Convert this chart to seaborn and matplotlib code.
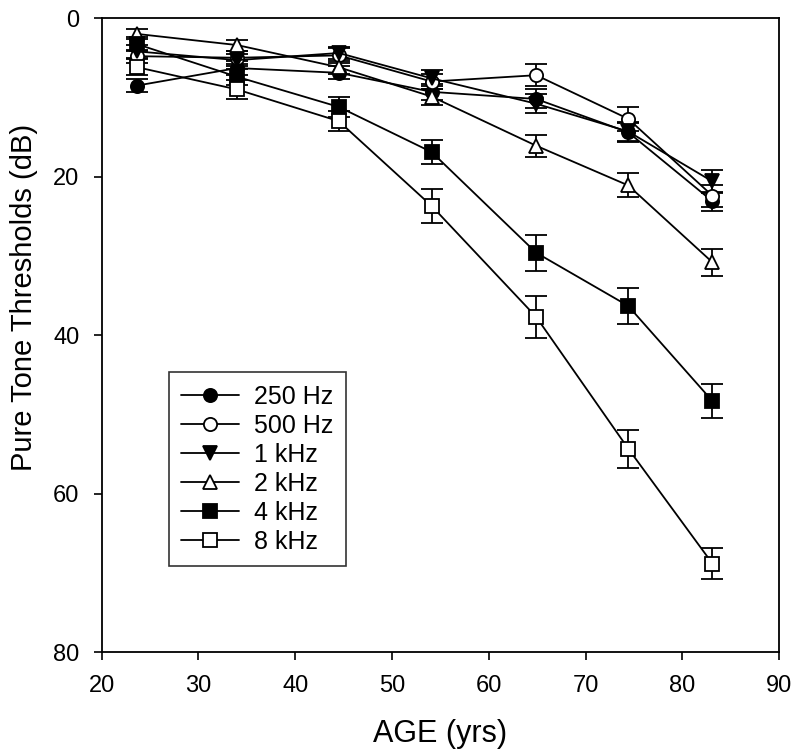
import numpy as np
import pandas as pd
import matplotlib
matplotlib.use("Agg")
import matplotlib.pyplot as plt
import seaborn as sns

ages = [23.7, 34.0, 44.5, 54.1, 64.9, 74.4, 83.1]

hz250 = [8.5, 6.3, 6.9, 9.3, 10.2, 14.4, 23.1]
hz500 = [4.8, 5.0, 4.7, 8.0, 7.2, 12.7, 22.4]
khz1 = [4.2, 5.3, 4.4, 7.6, 10.8, 14.3, 20.6]
khz2 = [2.0, 3.4, 6.2, 9.9, 16.1, 21.1, 30.8]
khz4 = [3.3, 7.4, 11.2, 16.9, 29.6, 36.3, 48.3]
khz8 = [6.2, 9.0, 13.0, 23.7, 37.7, 54.3, 68.8]

err250 = [0.8, 0.9, 0.8, 1.0, 1.2, 1.2, 1.2]
err500 = [0.8, 0.8, 0.9, 1.0, 1.4, 1.5, 1.4]
err1k = [0.8, 0.8, 0.8, 1.0, 1.2, 1.2, 1.5]
err2k = [0.6, 0.7, 0.8, 1.0, 1.4, 1.5, 1.7]
err4k = [0.9, 1.0, 1.3, 1.5, 2.3, 2.3, 2.1]
err8k = [1.0, 1.2, 1.3, 2.1, 2.6, 2.4, 2.0]

labels = ["250 Hz", "500 Hz", "1 kHz", "2 kHz", "4 kHz", "8 kHz"]
series = [hz250, hz500, khz1, khz2, khz4, khz8]
errors = [err250, err500, err1k, err2k, err4k, err8k]
markers = ["o", "o", "v", "^", "s", "s"]
fills = ["black", "white", "black", "white", "black", "white"]

sns.set_style("ticks")
plt.rcParams['font.family'] = ['Liberation Sans', 'DejaVu Sans']
plt.rcParams['text.color'] = 'black'
plt.rcParams['axes.labelcolor'] = 'black'

fig, ax = plt.subplots(figsize=(8, 7.55), dpi=100)
fig.subplots_adjust(left=0.127, right=0.974, top=0.976, bottom=0.136)

for lab, vals, err, mk, fc in zip(labels, series, errors, markers, fills):
    df = pd.DataFrame({"age": ages, "thr": vals})
    ax.errorbar(df["age"], df["thr"], yerr=err, fmt="none", ecolor="black",
                elinewidth=1.3, capsize=8, capthick=1.3, zorder=1)
    sns.lineplot(data=df, x="age", y="thr", ax=ax, color="black", linewidth=1.3,
                 marker=mk, markersize=9.5, markerfacecolor=fc,
                 markeredgecolor="black", markeredgewidth=1.3, label=lab)

ax.set_xlim(20, 90)
ax.set_ylim(80, 0)
ax.set_xticks(np.arange(20, 91, 10))
ax.set_yticks(np.arange(0, 81, 20))
ax.tick_params(direction="out", length=6, width=1.2, labelsize=17,
               colors="black", pad=10)
for s in ax.spines.values():
    s.set_visible(True)
    s.set_linewidth(1.3)
    s.set_color("black")

ax.set_xlabel("AGE (yrs)", fontsize=22, labelpad=16)
ax.set_ylabel("Pure Tone Thresholds (dB)", fontsize=21)
ax.yaxis.set_label_coords(-0.094, 0.56)

leg = ax.legend(loc="upper left", bbox_to_anchor=(0.099, 0.442), fontsize=18,
                frameon=True, fancybox=False, edgecolor="black",
                handlelength=2.3, labelspacing=0.2, borderpad=0.5,
                handletextpad=0.6, borderaxespad=0)
leg.get_frame().set_linewidth(1.2)

fig.savefig("out.png", dpi=100)
